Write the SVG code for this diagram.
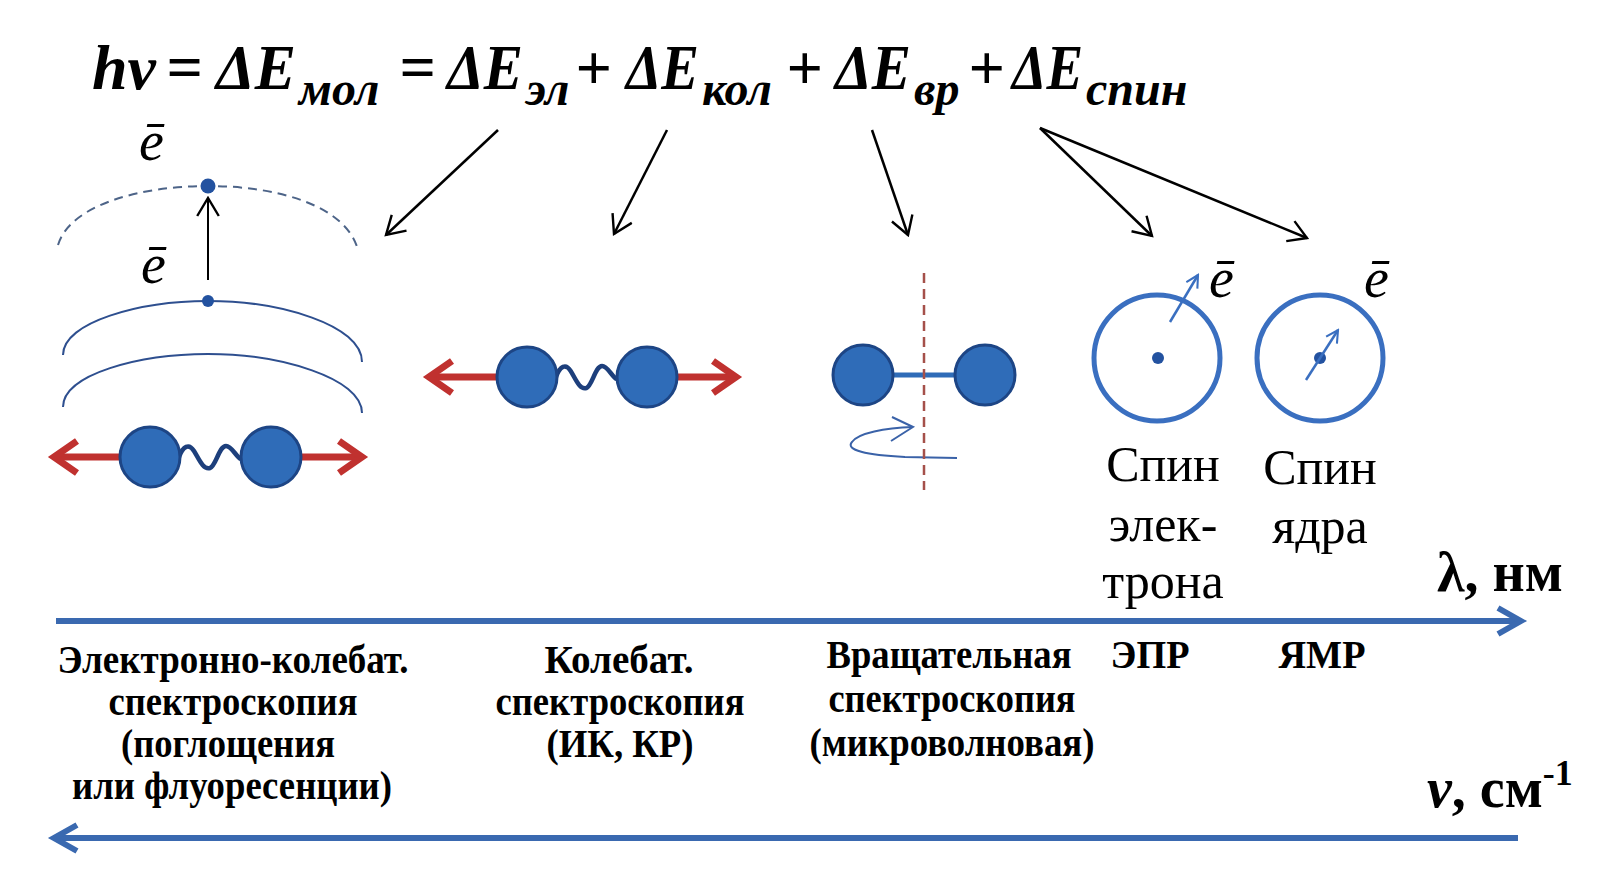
<svg xmlns="http://www.w3.org/2000/svg" width="1604" height="878" viewBox="0 0 1604 878">
<style>
.f{font-family:"Liberation Serif","Tinos","Times New Roman","DejaVu Serif",serif;fill:#000}
.eq{font-weight:bold;font-style:italic;font-size:64px}
.sub{font-size:48px}
.lbl{font-weight:bold;font-size:40px;text-anchor:middle}
.spin{font-size:50px;text-anchor:middle}
.el{font-style:italic;font-size:56px}
.atom{fill:#2f6cb8;stroke:#1d4585;stroke-width:3}
.spring{fill:none;stroke:#1d3f7c;stroke-width:4.5;stroke-linecap:round;stroke-linejoin:round}
.red{fill:none;stroke:#c0312f;stroke-width:7;stroke-linejoin:miter}
.conn{fill:none;stroke:#000;stroke-width:2.5;marker-end:url(#open)}
.orbit{fill:none;stroke:#2e4f8f;stroke-width:2}
.axis{fill:none;stroke:#3a69b0;stroke-width:6}
.shadow{fill:none;stroke:#b4b9c4;stroke-width:5;filter:url(#soft)}
.ring{fill:none;stroke:#3a6fc0;stroke-width:5}
.thin{fill:none;stroke:#3a6fc0;stroke-width:2.5;marker-end:url(#openBlue)}
.dot{fill:#2352a0}
</style>
<defs>
  <filter id="soft" x="-5%" y="-200%" width="110%" height="500%">
    <feGaussianBlur stdDeviation="1.5"/>
  </filter>
  <marker id="open" viewBox="0 0 20 20" refX="18" refY="10" markerWidth="24" markerHeight="24" markerUnits="userSpaceOnUse" orient="auto">
    <path d="M3,1 L18,10 L3,19" fill="none" stroke="#000" stroke-width="2"/>
  </marker>
  <marker id="openBlue" viewBox="0 0 20 20" refX="18" refY="10" markerWidth="16" markerHeight="16" markerUnits="userSpaceOnUse" orient="auto">
    <path d="M3,2 L18,10 L3,18" fill="none" stroke="#3a6fc0" stroke-width="2.6"/>
  </marker>
  <!-- two-hump spring, drawn from the left atom edge (x=0) -->
  <path id="springPath" d="M0,0 C4,-11 10,-14 15,-6 C20,2 24,13 31,11 C37,9 40,-11 47,-11 C53,-11 57,0 62,2"/>
</defs>
<rect width="1604" height="878" fill="#fff"/>

<!-- energy balance equation -->
<g id="formula" class="f eq">
  <text x="92" y="89" textLength="64" lengthAdjust="spacingAndGlyphs">hv</text>
  <text x="166" y="89">=</text>
  <text x="216" y="89" textLength="80" lengthAdjust="spacingAndGlyphs">ΔE</text>
  <text class="sub" x="299" y="105">мол</text>
  <text x="399" y="89">=</text>
  <text x="447" y="89" textLength="76" lengthAdjust="spacingAndGlyphs">ΔE</text>
  <text class="sub" x="526" y="105">эл</text>
  <text x="575" y="89">+</text>
  <text x="626" y="89" textLength="73" lengthAdjust="spacingAndGlyphs">ΔE</text>
  <text class="sub" x="702" y="105">кол</text>
  <text x="786" y="89">+</text>
  <text x="835" y="89" textLength="76" lengthAdjust="spacingAndGlyphs">ΔE</text>
  <text class="sub" x="914" y="105">вр</text>
  <text x="968" y="89">+</text>
  <text x="1012" y="89" textLength="71" lengthAdjust="spacingAndGlyphs">ΔE</text>
  <text class="sub" x="1086" y="105">спин</text>
</g>

<!-- arrows from the terms to the pictures -->
<g id="connectors">
  <line class="conn" x1="498" y1="130" x2="386" y2="235"/>
  <line class="conn" x1="667" y1="130" x2="614" y2="234"/>
  <line class="conn" x1="872" y1="130" x2="908" y2="235"/>
  <line class="conn" x1="1040" y1="128" x2="1152" y2="236"/>
  <line class="conn" x1="1040" y1="128" x2="1307" y2="238"/>
</g>

<!-- electronic transition with vibrating molecule -->
<g id="electronic">
  <text class="f el" x="139" y="160">ē</text>
  <path d="M58 245 C70 205 140 186 208 186 C276 186 346 205 358 250" fill="none" stroke="#4d6488" stroke-width="2" stroke-dasharray="9 6"/>
  <circle class="dot" cx="208" cy="186" r="7.5"/>
  <line x1="208" y1="280" x2="208" y2="198" stroke="#000" stroke-width="2" marker-end="url(#open)"/>
  <text class="f el" x="141" y="283">ē</text>
  <path class="orbit" d="M63 355 C63 322 140 301 208 301 C280 301 362 325 362 362"/>
  <path class="orbit" d="M63 407 C63 374 140 354 208 354 C280 354 362 378 362 413"/>
  <circle class="dot" cx="208" cy="301" r="6"/>
  <line class="red" x1="122" y1="457" x2="56" y2="457"/>
  <polyline class="red" points="77,441 54,457 77,473"/>
  <line class="red" x1="299" y1="457" x2="360" y2="457"/>
  <polyline class="red" points="339,441 362,457 339,473"/>
  <use href="#springPath" class="spring" transform="translate(179,457)"/>
  <circle class="atom" cx="150" cy="457" r="30"/>
  <circle class="atom" cx="271" cy="457" r="30"/>
</g>

<!-- vibrating molecule -->
<g id="vibrational">
  <line class="red" x1="500" y1="377" x2="431" y2="377"/>
  <polyline class="red" points="452,361 429,377 452,393"/>
  <line class="red" x1="675" y1="377" x2="734" y2="377"/>
  <polyline class="red" points="713,361 736,377 713,393"/>
  <use href="#springPath" class="spring" transform="translate(556,377) scale(0.98,1)"/>
  <circle class="atom" cx="527" cy="377" r="30"/>
  <circle class="atom" cx="647" cy="377" r="30"/>
</g>

<!-- rotating molecule -->
<g id="rotational">
  <line x1="893" y1="379" x2="955" y2="379" stroke="#c4c8d0" stroke-width="4" filter="url(#soft)"/>
  <line x1="893" y1="375" x2="955" y2="375" stroke="#2f6cb8" stroke-width="5"/>
  <circle class="atom" cx="863" cy="375" r="30"/>
  <circle class="atom" cx="985" cy="375" r="30"/>
  <path d="M957 458 L905 457 C866 455 845 450 852 442 C858 433 885 428 913 427" fill="none" stroke="#3a62a8" stroke-width="2"/>
  <polyline points="892,417 913,427 891,441" fill="none" stroke="#3a62a8" stroke-width="2"/>
  <line x1="924" y1="273" x2="924" y2="490" stroke="#a5504a" stroke-width="2.5" stroke-dasharray="10 6"/>
</g>

<!-- electron spin -->
<g id="spin-electron">
  <circle class="ring" cx="1157" cy="358" r="63"/>
  <circle class="dot" cx="1158" cy="358" r="6"/>
  <line class="thin" x1="1170" y1="322" x2="1198" y2="275"/>
  <text class="f el" x="1209" y="297">ē</text>
  <text class="f spin" x="1163" y="481">Спин</text>
  <text class="f spin" x="1163" y="541">элек-</text>
  <text class="f spin" x="1163" y="598">трона</text>
</g>

<!-- nuclear spin -->
<g id="spin-nucleus">
  <circle class="ring" cx="1320" cy="358" r="63"/>
  <circle class="dot" cx="1320" cy="358" r="6"/>
  <line class="thin" x1="1306" y1="380" x2="1338" y2="330"/>
  <text class="f el" x="1364" y="297">ē</text>
  <text class="f spin" x="1320" y="484">Спин</text>
  <text class="f spin" x="1320" y="543">ядра</text>
</g>

<!-- wavelength axis -->
<g id="axis-wavelength">
  <line class="shadow" x1="58" y1="626" x2="1515" y2="626"/>
  <line class="axis" x1="56" y1="621" x2="1518" y2="621"/>
  <polyline class="axis" points="1498,608 1521,621 1498,634"/>
  <text class="f" x="1437" y="591" font-weight="bold" font-size="56">λ, нм</text>
</g>

<!-- method labels -->
<g id="labels" class="f lbl">
  <text x="233" y="673" textLength="351" lengthAdjust="spacingAndGlyphs">Электронно-колебат.</text>
  <text x="233" y="715" textLength="249" lengthAdjust="spacingAndGlyphs">спектроскопия</text>
  <text x="228" y="757" textLength="214" lengthAdjust="spacingAndGlyphs">(поглощения</text>
  <text x="232" y="799" textLength="320" lengthAdjust="spacingAndGlyphs">или флуоресенции)</text>
  <text x="619" y="673" textLength="149" lengthAdjust="spacingAndGlyphs">Колебат.</text>
  <text x="620" y="715" textLength="249" lengthAdjust="spacingAndGlyphs">спектроскопия</text>
  <text x="620" y="757" textLength="147" lengthAdjust="spacingAndGlyphs">(ИК, КР)</text>
  <text x="949" y="668" textLength="245" lengthAdjust="spacingAndGlyphs">Вращательная</text>
  <text x="952" y="712" textLength="247" lengthAdjust="spacingAndGlyphs">спектроскопия</text>
  <text x="952" y="756" textLength="285" lengthAdjust="spacingAndGlyphs">(микроволновая)</text>
  <text x="1150" y="668" textLength="79" lengthAdjust="spacingAndGlyphs">ЭПР</text>
  <text x="1322" y="668" textLength="87" lengthAdjust="spacingAndGlyphs">ЯМР</text>
</g>

<!-- wavenumber axis -->
<g id="axis-wavenumber">
  <line class="shadow" x1="58" y1="843" x2="1516" y2="843"/>
  <line class="axis" x1="1518" y1="838" x2="57" y2="838"/>
  <polyline class="axis" points="77,825 54,838 77,851"/>
  <text class="f" x="1427" y="807" font-weight="bold" font-size="56"><tspan font-style="italic">ν</tspan>, см<tspan font-size="36" dy="-22">-1</tspan></text>
</g>
</svg>
